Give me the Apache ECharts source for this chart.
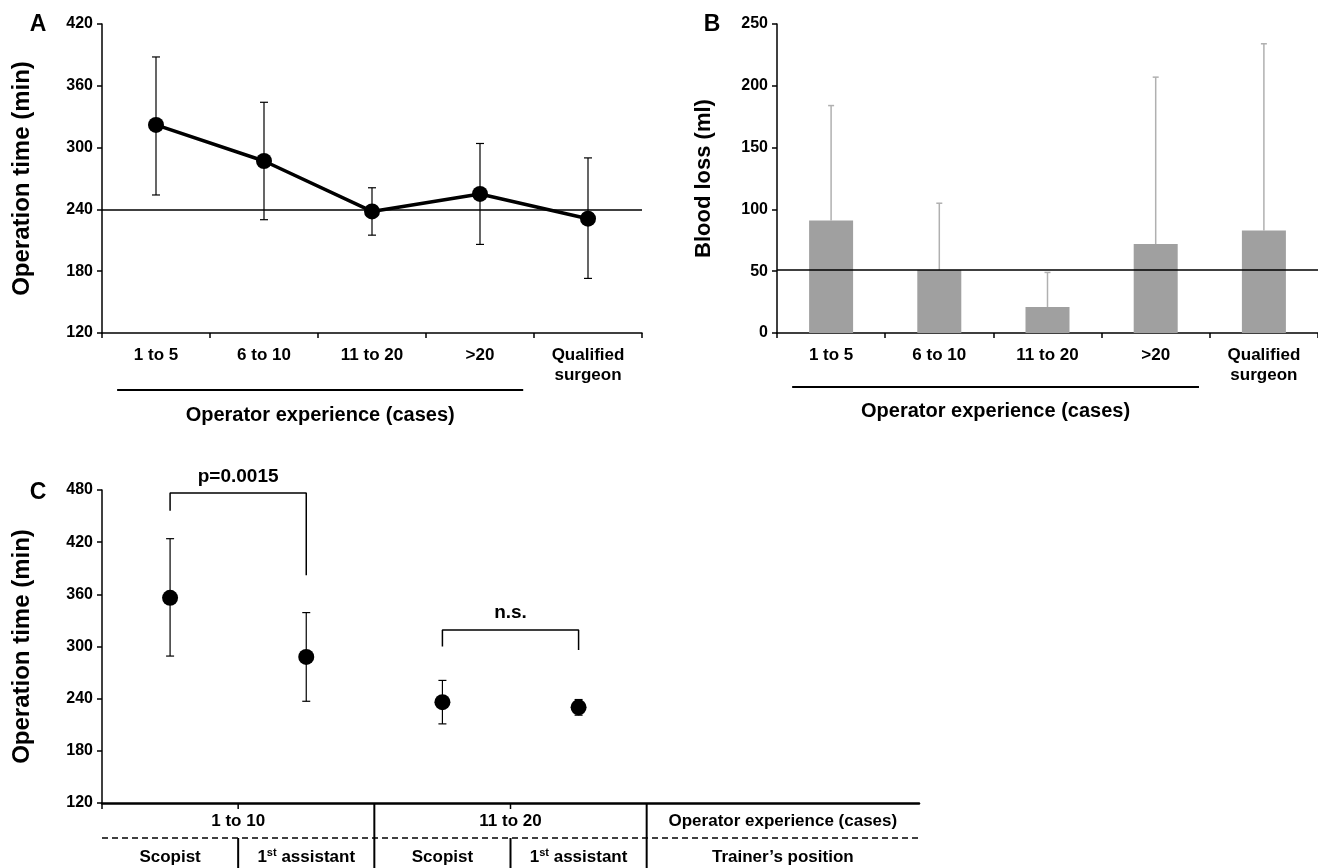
<!DOCTYPE html>
<html style="height: 100%">
<head>
    <meta charset="utf-8">
    <script src="https://cdn.jsdelivr.net/npm/echarts/dist/echarts.min.js"></script>
</head>
<body style="height: 100%; width: 100%; margin: 0; background-color: #fff;">

    <div id="container" style="width: 1318px; height: 868px;"></div>

    <script type="text/javascript">
        // panel A / B categories
        var categories = ['1 to 5', '6 to 10', '11 to 20', '>20', 'Qualified\nsurgeon'];
        // A: operation time (min)
        var opMean = [322, 287, 238, 255, 231];
        var opLow = [254, 230, 215, 206, 173];
        var opHigh = [388, 344, 261, 304, 290];
        var opRef = 240;
        // B: blood loss (ml)
        var bloodMean = [91, 51, 21, 72, 83];
        var bloodHigh = [184, 105, 49, 207, 234];
        var bloodRef = 51;
        // C: operation time by trainer position
        var cGroups = ['1 to 10', '11 to 20', 'Operator experience (cases)'];
        var cPositions = ['Scopist', '1st assistant', 'Scopist', '1st assistant', 'Trainer\u2019s position'];
        var cMean = [356, 288, 236, 230];
        var cLow = [289, 237, 211, 221];
        var cHigh = [424, 339, 261, 239];
        var pBracket = [[0, 456, 476.5], [1, 382, 476.5]];   // [point, leg end, top]
        var nsBracket = [[2, 300, 319], [3, 296, 319]];

        var font = "'Liberation Sans', Arial, sans-serif";
        var dom = document.getElementById("container");
        var myChart = echarts.init(dom);

        function errBar(color, both, cap, width) {
            return function (params, api) {
                var x = api.value(0);
                var lo = api.coord([x, api.value(1)]);
                var hi = api.coord([x, api.value(2)]);
                var st = { stroke: color, lineWidth: width };
                var ch = [
                    { type: 'line', shape: { x1: lo[0], y1: lo[1], x2: hi[0], y2: hi[1] }, style: st },
                    { type: 'line', shape: { x1: hi[0] - cap, y1: hi[1], x2: hi[0] + cap, y2: hi[1] }, style: st }
                ];
                if (both) {
                    ch.push({ type: 'line', shape: { x1: lo[0] - cap, y1: lo[1], x2: lo[0] + cap, y2: lo[1] }, style: st });
                }
                return { type: 'group', children: ch };
            };
        }

        function yAx(idx, min, max, interval, name, nameSize, gap) {
            return {
                gridIndex: idx, type: 'value', min: min, max: max, interval: interval,
                name: name, nameLocation: 'middle', nameGap: gap, nameRotate: 90,
                nameTextStyle: { fontFamily: font, fontWeight: 'bold', fontSize: nameSize, color: '#000' },
                axisLine: { show: true, lineStyle: { color: '#000', width: 1.5 } },
                axisTick: { show: true, inside: false, length: 5, lineStyle: { color: '#000', width: 1.5 } },
                axisLabel: { fontFamily: font, fontWeight: 'bold', fontSize: 16, color: '#000', margin: 9 },
                splitLine: { show: false }
            };
        }

        function catAx(idx) {
            return {
                gridIndex: idx, type: 'category', data: categories, boundaryGap: true,
                axisLine: { lineStyle: { color: '#000', width: 1.5 } },
                axisTick: { show: true, length: 5, lineStyle: { color: '#000', width: 1.5 } },
                axisLabel: { fontFamily: font, fontWeight: 'bold', fontSize: 17, color: '#000', margin: 12, lineHeight: 20, interval: 0 },
                splitLine: { show: false }
            };
        }

        var refLine = function (v) {
            return {
                silent: true, symbol: 'none', label: { show: false },
                lineStyle: { color: '#000', width: 1.5, type: 'solid' },
                data: [{ yAxis: v }]
            };
        };

        var option = {
            animation: false,
            backgroundColor: '#fff',
            grid: [
                { left: 102, top: 24, width: 540, height: 309 },
                { left: 777, top: 24, width: 541, height: 309 },
                { left: 102, top: 490, width: 817, height: 313 }
            ],
            xAxis: [
                catAx(0),
                catAx(1),
                {
                    gridIndex: 2, type: 'value', min: 0, max: 12, interval: 2,
                    axisLine: { lineStyle: { color: '#000', width: 2.5 } },
                    axisTick: { show: false }, axisLabel: { show: false }, splitLine: { show: false }
                }
            ],
            yAxis: [
                yAx(0, 120, 420, 60, 'Operation time (min)', 24, 68),
                yAx(1, 0, 250, 50, 'Blood loss (ml)', 22, 62),
                yAx(2, 120, 480, 60, 'Operation time (min)', 24, 68)
            ],
            series: [
                {
                    type: 'custom', xAxisIndex: 0, yAxisIndex: 0, z: 2,
                    data: opMean.map(function (m, i) { return [i, opLow[i], opHigh[i]]; }),
                    encode: { x: 0, y: [1, 2] },
                    renderItem: errBar('#000', true, 4, 1.2)
                },
                {
                    type: 'line', xAxisIndex: 0, yAxisIndex: 0, z: 3,
                    data: opMean, symbol: 'circle', symbolSize: 16,
                    itemStyle: { color: '#000', opacity: 1 }, lineStyle: { color: '#000', width: 3.5 },
                    markLine: refLine(opRef)
                },
                {
                    type: 'bar', xAxisIndex: 1, yAxisIndex: 1, z: 2,
                    data: bloodMean, barWidth: 44, itemStyle: { color: '#a0a0a0' },
                    markLine: refLine(bloodRef)
                },
                {
                    type: 'custom', xAxisIndex: 1, yAxisIndex: 1, z: 1,
                    data: bloodMean.map(function (m, i) { return [i, m, bloodHigh[i]]; }),
                    encode: { x: 0, y: [1, 2] },
                    renderItem: errBar('#b0b0b0', false, 3, 1.5)
                },
                {
                    type: 'custom', xAxisIndex: 2, yAxisIndex: 2, z: 2,
                    data: cMean.map(function (m, i) { return [2 * i + 1, cLow[i], cHigh[i]]; }),
                    encode: { x: 0, y: [1, 2] },
                    renderItem: errBar('#000', true, 4, 1.2)
                },
                {
                    type: 'scatter', xAxisIndex: 2, yAxisIndex: 2, z: 3,
                    data: cMean.map(function (m, i) { return [2 * i + 1, m]; }),
                    symbol: 'circle', symbolSize: 16, itemStyle: { color: '#000', opacity: 1 }
                }
            ].concat([pBracket, nsBracket].map(function (b) {
                return {
                    type: 'line', xAxisIndex: 2, yAxisIndex: 2, z: 2, symbol: 'none', silent: true,
                    lineStyle: { color: '#000', width: 1.5 },
                    data: [[2 * b[0][0] + 1, b[0][1]], [2 * b[0][0] + 1, b[0][2]], [2 * b[1][0] + 1, b[1][2]], [2 * b[1][0] + 1, b[1][1]]]
                };
            }))
        };

        myChart.setOption(option, true);

        // panel letters, group underlines and the table under panel C
        var txt = function (x, y, s, size, extra) {
            var st = { x: x, y: y, text: s, fontFamily: font, fontWeight: 'bold', fontSize: size, fill: '#000', align: 'center', verticalAlign: 'middle' };
            if (extra) { for (var k in extra) st[k] = extra[k]; }
            return { type: 'text', style: st, z: 10 };
        };
        var ln = function (x1, y1, x2, y2, w, dash) {
            return { type: 'line', shape: { x1: x1, y1: y1, x2: x2, y2: y2 }, style: { stroke: '#000', lineWidth: w, lineDash: dash || null }, z: 10 };
        };
        var sup = {
            rich: {
                n: { fontFamily: font, fontWeight: 'bold', fontSize: 17, lineHeight: 20 },
                s: { fontFamily: font, fontWeight: 'bold', fontSize: 11, lineHeight: 20, verticalAlign: 'top' }
            }
        };

        var g = [];
        g.push(txt(38, 25, 'A', 23), txt(712, 25, 'B', 23), txt(38, 493, 'C', 23));

        var pa = function (i) { return myChart.convertToPixel({ xAxisIndex: 0, yAxisIndex: 0 }, [i, 120]); };
        var pb = function (i) { return myChart.convertToPixel({ xAxisIndex: 1, yAxisIndex: 1 }, [i, 0]); };
        var bandA = pa(1)[0] - pa(0)[0];
        var bandB = pb(1)[0] - pb(0)[0];
        var ax1 = pa(0)[0] - bandA * 0.36, ax2 = pa(3)[0] + bandA * 0.4;
        var bx1 = pb(0)[0] - bandB * 0.36, bx2 = pb(3)[0] + bandB * 0.4;
        g.push(ln(ax1, 390, ax2, 390, 1.8), txt((ax1 + ax2) / 2, 415, 'Operator experience (cases)', 20));
        g.push(ln(bx1, 387, bx2, 387, 1.8), txt((bx1 + bx2) / 2, 411, 'Operator experience (cases)', 20));

        var pc = function (x, y) { return myChart.convertToPixel({ xAxisIndex: 2, yAxisIndex: 2 }, [x, y]); };
        var y0 = pc(0, 120)[1];
        var dashY = y0 + 35, bottom = 868;
        [0, 2, 6].forEach(function (x) { g.push(ln(pc(x, 120)[0], y0, pc(x, 120)[0], y0 + 6, 1.5)); });
        [4, 8].forEach(function (x) { g.push(ln(pc(x, 120)[0], y0, pc(x, 120)[0], bottom, 2)); });
        [2, 6].forEach(function (x) { g.push(ln(pc(x, 120)[0], dashY, pc(x, 120)[0], bottom, 2)); });
        g.push(ln(pc(0, 120)[0], dashY, pc(12, 120)[0], dashY, 1.5, [6, 4]));
        cGroups.forEach(function (s, i) { g.push(txt(pc(4 * i + 2, 120)[0], y0 + 18, s, 17)); });
        cPositions.forEach(function (s, i) {
            var x = i < 4 ? 2 * i + 1 : 10;
            var t = s.indexOf('1st') === 0 ? '{n|1}{s|st}{n|' + s.slice(3) + '}' : s;
            g.push(txt(pc(x, 120)[0], y0 + 54, t, 17, t === s ? null : sup));
        });

        // p-value labels above the brackets
        var pTop = pc(2 * pBracket[0][0] + 1, pBracket[0][2]);
        var pRight = pc(2 * pBracket[1][0] + 1, pBracket[0][2]);
        g.push(txt((pTop[0] + pRight[0]) / 2, pTop[1] - 16, 'p=0.0015', 19));
        var nTop = pc(2 * nsBracket[0][0] + 1, nsBracket[0][2]);
        var nRight = pc(2 * nsBracket[1][0] + 1, nsBracket[0][2]);
        g.push(txt((nTop[0] + nRight[0]) / 2, nTop[1] - 17, 'n.s.', 19));

        myChart.setOption({ graphic: g });
    </script>
</body>
</html>
